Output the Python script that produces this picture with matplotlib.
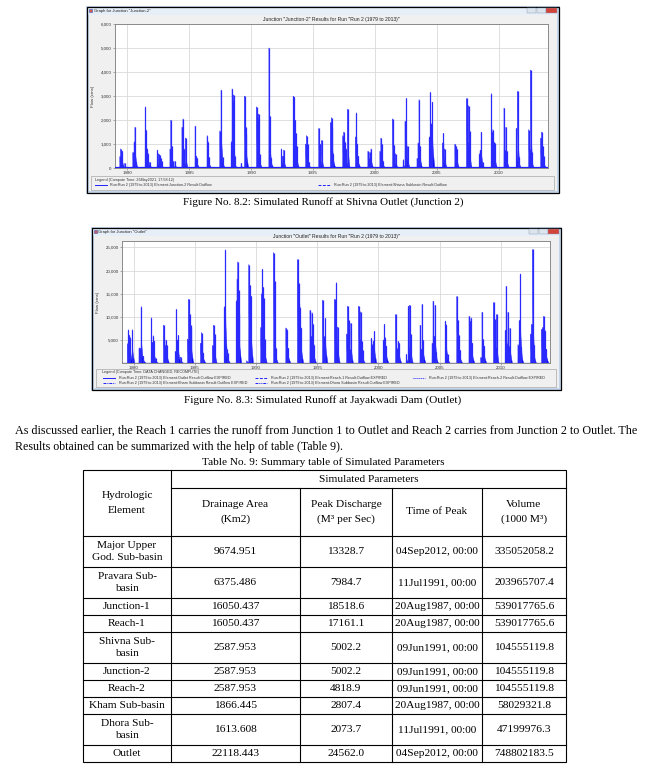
import matplotlib
matplotlib.use("Agg")
import matplotlib.pyplot as plt
from matplotlib.patches import Rectangle
from matplotlib.collections import PolyCollection

W, H = 646, 775

# ---- Junction-2 hydrograph peaks (decimal year, cms) ----
j2_time = [
    1979.40, 1979.47, 1979.58, 1979.80,
    1980.45, 1980.55, 1980.62, 1980.72,
    1981.45, 1981.50, 1981.62, 1981.70, 1981.82,
    1982.42, 1982.52, 1982.60, 1982.68, 1982.76,
    1983.45, 1983.52, 1983.60, 1983.68, 1983.85,
    1984.42, 1984.50, 1984.58, 1984.70,
    1985.48, 1985.55, 1985.65,
    1986.45, 1986.52, 1986.60,
    1987.48, 1987.58, 1987.72,
    1988.40, 1988.47, 1988.52, 1988.58, 1988.66,
    1989.20, 1989.48, 1989.55, 1989.62,
    1990.45, 1990.55, 1990.62, 1990.70,
    1991.45, 1991.52, 1991.65,
    1992.45, 1992.55, 1992.65,
    1993.42, 1993.50, 1993.56, 1993.62, 1993.70,
    1994.42, 1994.50, 1994.58, 1994.68,
    1995.48, 1995.58, 1995.70,
    1996.42, 1996.50, 1996.58, 1996.66,
    1997.42, 1997.50, 1997.58, 1997.68, 1997.80,
    1998.45, 1998.52, 1998.60, 1998.68,
    1999.45, 1999.52, 1999.60, 1999.70,
    2000.42, 2000.50, 2000.58, 2000.66,
    2001.45, 2001.55, 2001.68,
    2002.30, 2002.45, 2002.55, 2002.65,
    2003.42, 2003.50, 2003.58, 2003.66,
    2004.42, 2004.50, 2004.58, 2004.66,
    2005.48, 2005.55, 2005.65,
    2006.48, 2006.56, 2006.64,
    2007.42, 2007.50, 2007.58, 2007.66,
    2008.45, 2008.52, 2008.60, 2008.72,
    2009.42, 2009.48, 2009.55, 2009.62, 2009.70,
    2010.45, 2010.52, 2010.60, 2010.68,
    2011.45, 2011.55, 2011.65,
    2012.45, 2012.52, 2012.60, 2012.68,
    2013.42, 2013.50, 2013.58, 2013.66,
]
j2_flow = [
    480, 800, 700, 200,
    650, 1100, 1700, 250,
    2550, 1600, 800, 600, 250,
    750, 600, 550, 400, 300,
    800, 2000, 900, 300, 280,
    1700, 2050, 800, 1250,
    1750, 500, 400,
    1350, 1100, 450,
    1550, 3250, 450,
    1100, 3300, 2800, 3050, 500,
    200, 3000, 1700, 1400,
    2550, 2100, 2250, 600,
    5002, 2150, 400,
    800, 500, 750,
    3000, 2950, 2000, 1450, 900,
    1000, 1350, 1000, 250,
    1650, 1000, 1150,
    1900, 2100, 1650, 600,
    1350, 1500, 1100, 800, 2450,
    1300, 2300, 1000, 500,
    700, 400, 650, 800,
    700, 1250, 1000, 300,
    2050, 950, 600,
    350, 1950, 2900, 900,
    400, 1050, 2850, 900,
    1300, 3150, 1850, 2750,
    1050, 1450, 800,
    1000, 900, 800,
    2900, 1100, 2600, 1550,
    600, 750, 1500, 250,
    3100, 1500, 1600, 1100, 1050,
    2500, 750, 1700, 700,
    1650, 3200, 450,
    1600, 800, 4080, 650,
    1250, 1500, 900, 500,
]

# ---- Outlet hydrograph peaks (decimal year, cms) ----
out_time = [
    1979.50, 1979.58, 1979.66, 1979.74, 1979.90,
    1980.45, 1980.52, 1980.62, 1980.80,
    1981.45, 1981.52, 1981.60, 1981.68, 1981.80,
    1982.45, 1982.55, 1982.65, 1982.72,
    1983.42, 1983.50, 1983.58, 1983.66, 1983.85,
    1984.42, 1984.50, 1984.58, 1984.66, 1984.72,
    1985.48, 1985.55, 1985.62, 1985.70,
    1986.45, 1986.55, 1986.62,
    1987.42, 1987.50, 1987.60, 1987.70,
    1988.40, 1988.46, 1988.52, 1988.58, 1988.64,
    1989.25, 1989.42, 1989.50, 1989.60,
    1990.40, 1990.46, 1990.52, 1990.58, 1990.64, 1990.72,
    1991.45, 1991.52, 1991.62,
    1992.45, 1992.55, 1992.65,
    1993.40, 1993.48, 1993.55, 1993.62, 1993.70,
    1994.42, 1994.50, 1994.58, 1994.66, 1994.74,
    1995.45, 1995.55, 1995.68,
    1996.42, 1996.50, 1996.58, 1996.68,
    1997.42, 1997.50, 1997.58, 1997.66, 1997.76,
    1998.40, 1998.48, 1998.56, 1998.64, 1998.72,
    1999.42, 1999.50, 1999.58, 1999.68,
    2000.42, 2000.50, 2000.58, 2000.66,
    2001.42, 2001.52, 2001.62, 2001.70,
    2002.30, 2002.45, 2002.55, 2002.65,
    2003.42, 2003.50, 2003.58, 2003.68,
    2004.40, 2004.48, 2004.56, 2004.64, 2004.72,
    2005.48, 2005.56, 2005.66,
    2006.42, 2006.50, 2006.58, 2006.68,
    2007.42, 2007.50, 2007.58, 2007.68,
    2008.38, 2008.48, 2008.56, 2008.66,
    2009.42, 2009.50, 2009.58, 2009.66,
    2010.38, 2010.45, 2010.52, 2010.60, 2010.68, 2010.76,
    2011.42, 2011.52, 2011.60, 2011.70,
    2012.45, 2012.52, 2012.62, 2012.72,
    2013.35, 2013.42, 2013.50, 2013.58, 2013.66, 2013.74,
]
out_flow = [
    4200, 7200, 6000, 5500, 7200,
    3300, 3200, 12200, 1500,
    9800, 4500, 5900, 4800, 1000,
    8200, 4000, 5000, 3800,
    2500, 11600, 5000, 6000, 1300,
    5200, 13800, 10500, 8200, 7500,
    4300, 6600, 4800, 2200,
    3800, 8200, 6200,
    12200, 24500, 3000, 2200,
    13500, 18200, 21900, 15800, 10500,
    500, 21300, 16800, 14500,
    7700, 15000, 20300, 16400, 14000, 5200,
    23900, 17800, 3300,
    7600, 7200, 3200,
    22400, 17400, 12800, 12000, 7600,
    11400, 5800, 10900, 8400, 4000,
    13600, 5800, 9700,
    13800, 4600, 17400, 7800,
    6300, 12300, 9200, 3100, 8600,
    12300, 5200, 11100, 4800, 2800,
    5400, 4000, 4800, 6900,
    5000, 8400, 5500, 3700,
    10500, 3200, 4700, 4300,
    1900, 12300, 12500, 6200,
    8200, 3000, 12700, 4900,
    4300, 13400, 5800, 12500, 2400,
    9100, 8300, 2000,
    14400, 9300, 6100, 2800,
    10100, 9100, 9800, 4300,
    1200, 11000, 5100, 3700,
    13100, 9600, 3400, 10500,
    7100, 16600, 4100, 11000, 3600, 7500,
    4000, 9200, 19300, 3500,
    6300, 8400, 24562, 3900,
    7300, 7700, 10100, 6200, 7000, 3000,
]

year_ticks = [1980, 1985, 1990, 1995, 2000, 2005, 2010]
j2_yticks = [0, 1000, 2000, 3000, 4000, 5000, 6000]
out_yticks = [5000, 10000, 15000, 20000, 25000]

# ---- Table 9 ----
elements = ["Major Upper\nGod. Sub-basin", "Pravara Sub-\nbasin", "Junction-1", "Reach-1",
            "Shivna Sub-\nbasin", "Junction-2", "Reach-2", "Kham Sub-basin",
            "Dhora Sub-\nbasin", "Outlet"]
drainage_area = ["9674.951", "6375.486", "16050.437", "16050.437", "2587.953",
                 "2587.953", "2587.953", "1866.445", "1613.608", "22118.443"]
peak_discharge = ["13328.7", "7984.7", "18518.6", "17161.1", "5002.2",
                  "5002.2", "4818.9", "2807.4", "2073.7", "24562.0"]
time_of_peak = ["04Sep2012, 00:00", "11Jul1991, 00:00", "20Aug1987, 00:00",
                "20Aug1987, 00:00", "09Jun1991, 00:00", "09Jun1991, 00:00",
                "09Jun1991, 00:00", "20Aug1987, 00:00", "11Jul1991, 00:00",
                "04Sep2012, 00:00"]
volume = ["335052058.2", "203965707.4", "539017765.6", "539017765.6", "104555119.8",
          "104555119.8", "104555119.8", "58029321.8", "47199976.3", "748802183.5"]
col_headers = ["Drainage Area\n(Km2)", "Peak Discharge\n(M\u00b3 per Sec)", "Time of Peak",
               "Volume\n(1000 M\u00b3)"]

SERIF = "Liberation Serif"
SANS = "Liberation Sans"


def frac(x0, y0, x1, y1):
    return [x0 / W, 1 - y1 / H, (x1 - x0) / W, (y1 - y0) / H]


def draw_window(pg, x0, y0, x1, y1, caption, legend_y):
    pg.add_patch(Rectangle((x0, y0), x1 - x0, y1 - y0, facecolor="#f0f0f0",
                           edgecolor="#c3d5ea", lw=2.2, zorder=1))
    pg.add_patch(Rectangle((x0 - 0.5, y0 - 0.5), x1 - x0 + 1, y1 - y0 + 1, facecolor="none",
                           edgecolor="black", lw=0.9, zorder=2))
    pg.add_patch(Rectangle((x0 + 1, y0 + 1), x1 - x0 - 2, 6.5, facecolor="#e6eef8",
                           edgecolor="none", zorder=1.5))
    pg.add_patch(Rectangle((x0 + 2, y0 + 2), 3, 3, facecolor="#d9534f", edgecolor="#3060c0",
                           lw=0.4, zorder=3))
    pg.text(x0 + 6.5, y0 + 4, caption, fontsize=3.0, family=SANS, va="center",
            color="#222222", zorder=3)
    bx = x1 - 31
    for w, fc in [(9, "#dce4ee"), (9, "#dce4ee"), (11, "#d2433a")]:
        pg.add_patch(Rectangle((bx, y0 + 1.2), w, 4.8, facecolor=fc, edgecolor="#8a9bb0",
                               lw=0.3, zorder=3))
        bx += w + 0.5
    # legend box
    pg.add_patch(Rectangle((x0 + 4, legend_y[0]), x1 - x0 - 8, legend_y[1] - legend_y[0],
                           facecolor="#f0f0f0", edgecolor="#a8a8a8", lw=0.5, zorder=2))


def draw_chart(ax, times, flows, xlim, ylim, yticks, title):
    ax.set_facecolor("white")
    ax.set_xlim(*xlim)
    ax.set_ylim(*ylim)
    for yr in year_ticks:
        ax.axvline(yr, color="#d9d9d9", lw=0.6, zorder=0)
    for yv in yticks:
        ax.axhline(yv, color="#d9d9d9", lw=0.6, zorder=0)
    # each peak drawn as a sharp rise with a long recession limb
    polys = []
    for t, q in zip(times, flows):
        polys.append([(t - 0.012, 0), (t, q), (t + 0.012, q * 0.5), (t + 0.05, q * 0.32),
                      (t + 0.12, q * 0.15), (t + 0.2, 0)])
    ax.add_collection(PolyCollection(polys, facecolors="#0000e6", edgecolors="#3c3cff",
                                     linewidths=0.35, alpha=0.92, zorder=2))
    ax.vlines(times, 0, flows, color="#2a2aff", lw=0.9, zorder=3)
    ax.axhline(ylim[0] + (ylim[1] - ylim[0]) * 0.004, color="#2020ff", lw=0.9, zorder=3)
    ax.set_xticks(year_ticks)
    ax.set_xticklabels([str(y) for y in year_ticks])
    ax.set_yticks(yticks)
    ax.set_yticklabels([f"{v:,}" for v in yticks])
    ax.tick_params(labelsize=3.2, length=1.6, width=0.4, color="#707070", pad=0.8,
                   labelcolor="#333333")
    for lab in ax.get_xticklabels() + ax.get_yticklabels():
        lab.set_family(SANS)
    for s in ax.spines.values():
        s.set_color("#8a8a8a")
        s.set_linewidth(0.7)
    ax.set_ylabel("Flow (cms)", fontsize=3.2, family=SANS, color="#333333", labelpad=4)
    ax.set_title(title, fontsize=3.6, family=SANS, color="#222222", pad=2.5)


fig = plt.figure(figsize=(W / 100, H / 100), dpi=100)
fig.patch.set_facecolor("white")
pg = fig.add_axes([0, 0, 1, 1])
pg.set_xlim(0, W)
pg.set_ylim(H, 0)
pg.axis("off")

# ---- window 1: Junction-2 ----
draw_window(pg, 87, 7, 558, 192, 'Graph for Junction "Junction-2"', (176, 190))
ax1 = fig.add_axes(frac(115, 24, 548, 168))
draw_chart(ax1, j2_time, j2_flow, (1979.0, 2014.0), (0, 6000), j2_yticks,
           'Junction "Junction-2" Results for Run "Run 2 (1979 to 2013)"')
lg = dict(fontsize=2.7, family=SANS, color="#333333", va="center", zorder=4)
pg.text(95, 179.8, "Legend (Compute Time: 26May2021, 17:58:12)", **lg)
pg.plot([95, 107], [185.2, 185.2], color="#2020ff", lw=0.7, zorder=4)
pg.text(110, 185.2, "Run:Run 2 (1979 to 2013) Element:Junction-2 Result:Outflow", **lg)
pg.plot([318, 330], [185.2, 185.2], color="#2020ff", lw=0.7, ls=(0, (3, 1.5)), zorder=4)
pg.text(334, 185.2, "Run:Run 2 (1979 to 2013) Element:Shivna Subbasin Result:Outflow", **lg)

pg.text(323, 202, "Figure No. 8.2: Simulated Runoff at Shivna Outlet (Junction 2)",
        fontsize=8, family=SERIF, ha="center", va="center")

# ---- window 2: Outlet ----
draw_window(pg, 92, 228, 560, 389, 'Graph for Junction "Outlet"', (369, 387))
ax2 = fig.add_axes(frac(122, 241, 550, 363))
draw_chart(ax2, out_time, out_flow, (1979.05, 2014.03), (0, 26400), out_yticks,
           'Junction "Outlet" Results for Run "Run 2 (1979 to 2013)"')
pg.text(102, 372.5, "Legend (Compute Time: DATA CHANGED, RECOMPUTE)", **lg)
entries = [
    (103, 377.8, "-", "Run:Run 2 (1979 to 2013) Element:Outlet Result:Outflow EXPIRED"),
    (255, 377.8, (0, (3, 1.5)), "Run:Run 2 (1979 to 2013) Element:Reach-1 Result:Outflow EXPIRED"),
    (413, 377.8, (0, (1, 1)), "Run:Run 2 (1979 to 2013) Element:Reach-2 Result:Outflow EXPIRED"),
    (103, 383.2, (0, (3, 1, 1, 1)), "Run:Run 2 (1979 to 2013) Element:Kham Subbasin Result:Outflow EXPIRED"),
    (255, 383.2, (0, (3, 1, 1, 1, 1, 1)), "Run:Run 2 (1979 to 2013) Element:Dhora Subbasin Result:Outflow EXPIRED"),
]
for x, y, ls, label in entries:
    pg.plot([x, x + 12], [y, y], color="#2020ff", lw=0.7, ls=ls, zorder=4)
    pg.text(x + 16, y, label, **lg)

pg.text(323, 400, "Figure No. 8.3: Simulated Runoff at Jayakwadi Dam (Outlet)",
        fontsize=8.1, family=SERIF, ha="center", va="center")

# ---- paragraph ----
pg.text(15, 431, "As discussed earlier, the Reach 1 carries the runoff from Junction 1 to Outlet "
        "and Reach 2 carries from Junction 2 to Outlet. The",
        fontsize=8.7, family=SERIF, va="center")
pg.text(15, 447, "Results obtained can be summarized with the help of table (Table 9).",
        fontsize=8.6, family=SERIF, va="center")
pg.text(323, 462, "Table No. 9: Summary table of Simulated Parameters",
        fontsize=8.1, family=SERIF, ha="center", va="center")

# ---- table ----
col_x = [83, 171, 300, 392, 482, 566]
top = 470
h_group, h_head, h_line1, h_line2 = 18, 48, 17, 31
row_h = [h_line2 if "\n" in e else h_line1 for e in elements]
row_y = [top + h_group + h_head]
for h in row_h:
    row_y.append(row_y[-1] + h)
bottom = row_y[-1]
lw = 0.8
tk = dict(fontsize=8.2, family=SERIF, ha="center", va="center", linespacing=1.3)
hk = dict(tk, linespacing=1.75)

pg.add_patch(Rectangle((col_x[0], top), col_x[-1] - col_x[0], bottom - top,
                       facecolor="none", edgecolor="black", lw=lw))
pg.plot([col_x[1], col_x[-1]], [top + h_group] * 2, color="black", lw=lw)
for y in row_y[:-1]:
    pg.plot([col_x[0], col_x[-1]], [y, y], color="black", lw=lw)
pg.plot([col_x[1], col_x[1]], [top, bottom], color="black", lw=lw)
for x in col_x[2:-1]:
    pg.plot([x, x], [top + h_group, bottom], color="black", lw=lw)

pg.text((col_x[0] + col_x[1]) / 2, top + (h_group + h_head) / 2, "Hydrologic\nElement", **hk)
pg.text((col_x[1] + col_x[-1]) / 2, top + h_group / 2, "Simulated Parameters", **tk)
for i, hdr in enumerate(col_headers):
    pg.text((col_x[i + 1] + col_x[i + 2]) / 2, top + h_group + h_head / 2, hdr, **hk)

columns = [elements, drainage_area, peak_discharge, time_of_peak, volume]
for r in range(len(elements)):
    yc = (row_y[r] + row_y[r + 1]) / 2
    for c, col in enumerate(columns):
        pg.text((col_x[c] + col_x[c + 1]) / 2, yc, col[r], **tk)

fig.savefig("out.png", dpi=100)
